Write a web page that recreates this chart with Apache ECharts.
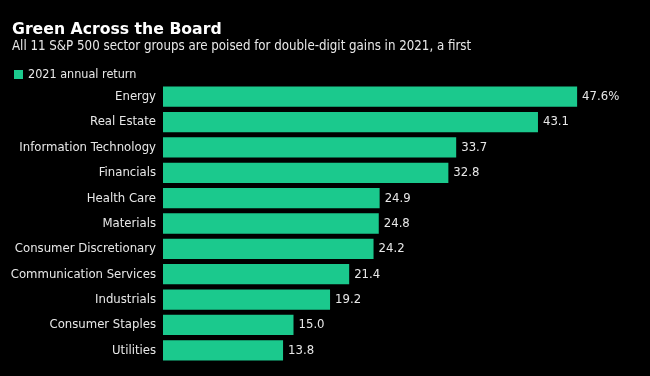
<!DOCTYPE html>
<html>
<head>
<meta charset="utf-8">
<script src="https://cdn.jsdelivr.net/npm/echarts@6/dist/echarts.min.js"></script>
<style>
  html, body { margin: 0; padding: 0; background: #000; }
  #main { width: 650px; height: 376px; }
</style>
</head>
<body>
<div id="main"></div>
<script>
var categories = ['Energy', 'Real Estate', 'Information Technology', 'Financials', 'Health Care',
  'Materials', 'Consumer Discretionary', 'Communication Services', 'Industrials',
  'Consumer Staples', 'Utilities'];
var returns2021 = [47.6, 43.1, 33.7, 32.8, 24.9, 24.8, 24.2, 21.4, 19.2, 15.0, 13.8];

var green = '#1bc98d';
var textColor = '#e8e8e8';
var font = 'DejaVu Sans Condensed';

var chart = echarts.init(document.getElementById('main'));
var option = {
  backgroundColor: '#000',
  animation: false,
  textStyle: { fontFamily: font },
  title: [
    {
      text: 'Green Across the Board',
      left: 7, top: 17,
      textStyle: { color: '#fff', fontSize: 15.7, fontWeight: 'bold', fontFamily: 'DejaVu Sans' }
    },
    {
      text: 'All 11 S&P 500 sector groups are poised for double-digit gains in 2021, a first',
      left: 7, top: 35,
      textStyle: { color: textColor, fontSize: 13.2, fontWeight: 'normal', fontFamily: font }
    }
  ],
  legend: {
    left: 9, top: 63,
    itemWidth: 9, itemHeight: 9,
    icon: 'rect',
    itemGap: 5,
    textStyle: { color: textColor, fontSize: 12.5, fontFamily: font },
    data: ['2021 annual return']
  },
  grid: { left: 163, right: 52, top: 84, bottom: 13 },
  xAxis: {
    type: 'value',
    min: 0, max: 50,
    show: false
  },
  yAxis: {
    type: 'category',
    inverse: true,
    data: categories,
    axisLine: { show: false },
    axisTick: { show: false },
    axisLabel: { color: textColor, fontSize: 13, margin: 7, fontFamily: font }
  },
  series: [{
    name: '2021 annual return',
    type: 'bar',
    data: returns2021,
    barCategoryGap: '20%',
    itemStyle: { color: green },
    label: {
      show: true,
      position: 'right',
      distance: 5,
      color: textColor,
      fontSize: 13,
      fontFamily: font,
      formatter: function (p) {
        return p.value.toFixed(1) + (p.dataIndex === 0 ? '%' : '');
      }
    }
  }]
};
chart.setOption(option);
</script>
</body>
</html>
